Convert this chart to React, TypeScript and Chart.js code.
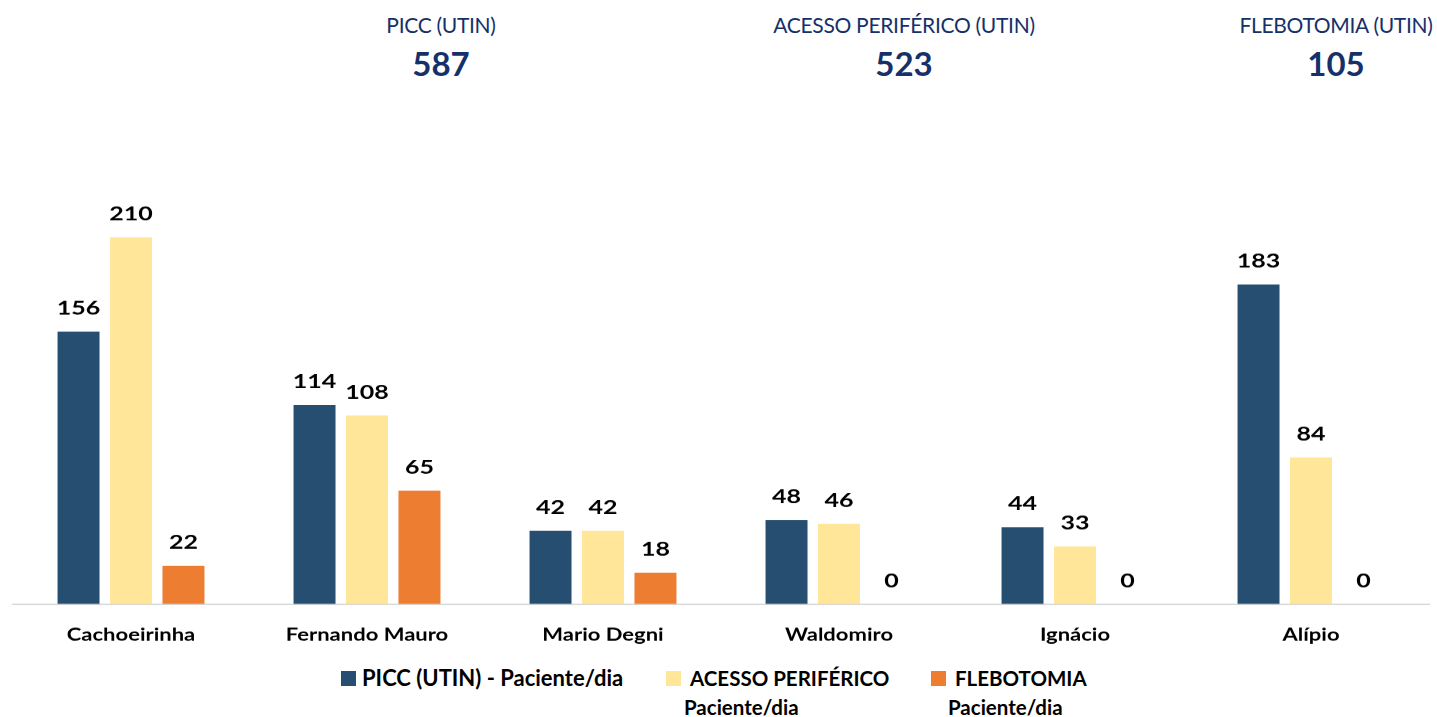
import React, { useEffect, useRef } from "react";
import { Chart, registerables } from "chart.js";

Chart.register(...registerables);

const categories = ["Cachoeirinha", "Fernando Mauro", "Mario Degni", "Waldomiro", "Ignácio", "Alípio"];
const piccValues = [156, 114, 42, 48, 44, 183];
const acessoValues = [210, 108, 42, 46, 33, 84];
const flebotomiaValues = [22, 65, 18, 0, 0, 0];

const headerTitles = ["PICC (UTIN)", "ACESSO PERIFÉRICO (UTIN)", "FLEBOTOMIA (UTIN)"];
const headerTotals = ["587", "523", "105"];

const legendLines = [["PICC (UTIN) - Paciente/dia"], ["ACESSO PERIFÉRICO", "Paciente/dia"], ["FLEBOTOMIA", "Paciente/dia"]];
const seriesColors = ["#264E70", "#FFE699", "#ED7D31"];

const FONT = "Lato, 'Open Sans', sans-serif";

const valueLabels = {
  id: "valueLabels",
  afterDatasetsDraw(chart: any) {
    const ctx = chart.ctx;
    ctx.save();
    ctx.font = `bold 25px ${FONT}`;
    ctx.fillStyle = "#000000";
    ctx.textAlign = "center";
    ctx.textBaseline = "alphabetic";
    chart.data.datasets.forEach((ds: any, di: number) => {
      const meta = chart.getDatasetMeta(di);
      meta.data.forEach((el: any, i: number) => {
        ctx.fillText(String(ds.data[i]), el.x, el.y - 22);
      });
    });
    ctx.restore();
  },
};

export default function App() {
  const canvasRef = useRef<HTMLCanvasElement>(null);

  useEffect(() => {
    const chart = new Chart(canvasRef.current!, {
      type: "bar",
      data: {
        labels: categories,
        datasets: [
          { label: legendLines[0].join(" "), data: piccValues, backgroundColor: seriesColors[0] },
          { label: legendLines[1].join(" "), data: acessoValues, backgroundColor: seriesColors[1] },
          { label: legendLines[2].join(" "), data: flebotomiaValues, backgroundColor: seriesColors[2] },
        ],
      },
      options: {
        animation: false,
        responsive: false,
        maintainAspectRatio: false,
        layout: { padding: { left: 13, right: 8, top: 0, bottom: 0 } },
        datasets: { bar: { categoryPercentage: 0.667, barPercentage: 0.8 } },
        plugins: { legend: { display: false }, tooltip: { enabled: false } },
        scales: {
          x: {
            grid: { display: false },
            border: { display: true, color: "#D9D9D9", width: 2 },
            ticks: { color: "#000000", font: { family: FONT, size: 22, weight: "bold" }, padding: 19 },
          },
          y: { display: false, min: 0, max: 260 },
        },
      },
      plugins: [valueLabels],
    });
    return () => chart.destroy();
  }, []);

  const headerCenters = [441, 904, 1336];
  const legendPos = [
    { box: 341, text: 362, second: 362, size: 22 },
    { box: 666, text: 690, second: 684, size: 20.5 },
    { box: 931, text: 955, second: 948, size: 20.5 },
  ];

  return (
    <div style={{ position: "fixed", left: 0, top: 0, width: 1437, height: 717, background: "#fff", overflow: "hidden", fontFamily: FONT }}>
      {headerTitles.map((t, i) => (
        <div key={"t" + i} style={{ position: "absolute", left: headerCenters[i] - 200, width: 400, top: 10, textAlign: "center", color: "#16306A", fontSize: 21, letterSpacing: -0.3, lineHeight: "30px" }}>
          {t}
        </div>
      ))}
      {headerTotals.map((t, i) => (
        <div key={"v" + i} style={{ position: "absolute", left: headerCenters[i] - 200, width: 400, top: 43, textAlign: "center", color: "#16306A", fontSize: 33, fontWeight: 700, lineHeight: "40px" }}>
          {t}
        </div>
      ))}
      <canvas ref={canvasRef} width={1437} height={660} style={{ position: "absolute", left: 0, top: 150, width: 1437, height: 510 }} />
      {legendLines.map((lines, i) => (
        <React.Fragment key={"l" + i}>
          <div style={{ position: "absolute", left: legendPos[i].box, top: 671, width: 15, height: 15, background: seriesColors[i] }} />
          {lines.map((ln, j) => (
            <div key={j} style={{ position: "absolute", left: j === 0 ? legendPos[i].text : legendPos[i].second, top: 664 + j * 29, fontSize: legendPos[i].size, fontWeight: 700, color: "#000", lineHeight: "28px", whiteSpace: "nowrap" }}>
              {ln}
            </div>
          ))}
        </React.Fragment>
      ))}
    </div>
  );
}
